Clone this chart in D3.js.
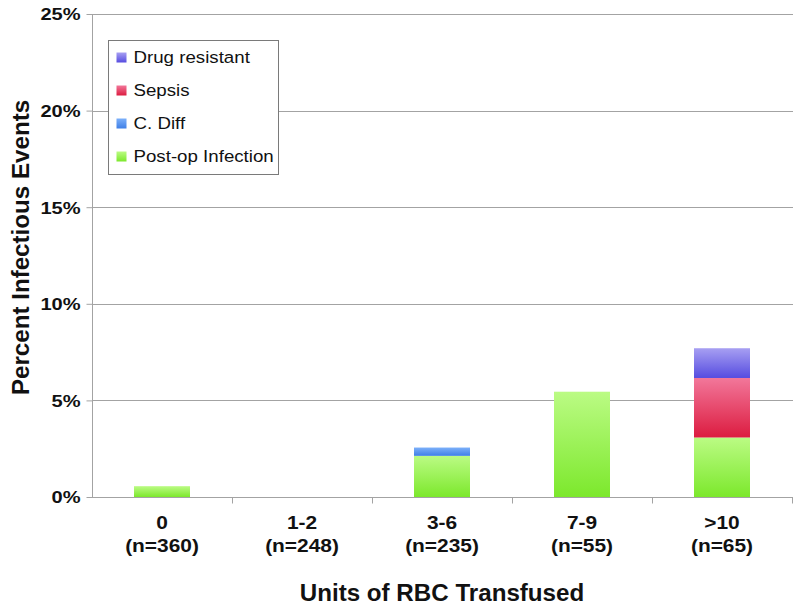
<!DOCTYPE html>
<html>
<head>
<meta charset="utf-8">
<script src="https://cdn.jsdelivr.net/npm/d3@7"></script>
<style>
  html, body { margin: 0; padding: 0; background: #fff; }
  svg { display: block; font-family: "Liberation Sans", Arial, Helvetica, sans-serif; }
</style>
</head>
<body>
<svg id="chart" width="793" height="608"></svg>
<script>
// ---- data ----
const categories = ["0", "1-2", "3-6", "7-9", ">10"];
const sampleSizes = ["(n=360)", "(n=248)", "(n=235)", "(n=55)", "(n=65)"];
const postOp = [0.56, 0, 2.13, 5.45, 3.08];
const cDiff = [0, 0, 0.43, 0, 0];
const sepsis = [0, 0, 0, 0, 3.08];
const drugResistant = [0, 0, 0, 0, 1.54];
const seriesNames = ["Post-op Infection", "C. Diff", "Sepsis", "Drug resistant"];
const yTicks = [0, 5, 10, 15, 20, 25];

const seriesValues = [postOp, cDiff, sepsis, drugResistant];
const seriesColors = [
  ["#bbfb84", "#7ce82c"],
  ["#7cb0fa", "#3f7fe6"],
  ["#f2779a", "#dc1c40"],
  ["#a79ff2", "#564ce0"]
];

const svg = d3.select("#chart");
const plotLeft = 92, plotRight = 792, plotTop = 14, plotBottom = 497;

const x = d3.scaleBand().domain(categories).range([plotLeft, plotRight]).padding(0);
const y = d3.scaleLinear().domain([0, 25]).range([plotBottom, plotTop]);
const barW = x.bandwidth() * 0.4;

// gradients
const defs = svg.append("defs");
seriesColors.forEach((c, i) => {
  const g = defs.append("linearGradient").attr("id", "grad" + i)
    .attr("x1", 0).attr("y1", 0).attr("x2", 0).attr("y2", 1);
  g.append("stop").attr("offset", "0%").attr("stop-color", c[0]);
  g.append("stop").attr("offset", "100%").attr("stop-color", c[1]);
});

const gridColor = "#a3a3a3";

// gridlines
svg.append("g").selectAll("line").data(yTicks.filter(t => t > 0)).join("line")
  .attr("x1", plotLeft).attr("x2", plotRight + 1)
  .attr("y1", d => Math.round(y(d)) + 0.5).attr("y2", d => Math.round(y(d)) + 0.5)
  .attr("stroke", gridColor).attr("stroke-width", 1);

// y axis
const yAxis = d3.axisLeft(y).tickValues(yTicks).tickSize(6).tickFormat(d => d + "%");
const yg = svg.append("g").attr("transform", `translate(${plotLeft + 0.5},0)`).call(yAxis);
yg.select(".domain").attr("stroke", gridColor).attr("d", `M0,${y(25)}V${plotBottom}`);
yg.selectAll(".tick line").attr("stroke", gridColor);
yg.selectAll(".tick text")
  .attr("x", 0).attr("dy", null).attr("y", 0)
  .attr("fill", "#111").attr("font-weight", "bold").attr("font-size", 17)
  .attr("font-family", "'Liberation Sans', Arial, sans-serif")
  .attr("text-anchor", "end").attr("dominant-baseline", "central")
  .attr("transform", "translate(-12,0) scale(1.18,1)");

// stacked bars
const stackData = categories.map((c, i) => {
  const o = { cat: c };
  seriesNames.forEach((s, j) => { o[s] = seriesValues[j][i]; });
  return o;
});
const stacked = d3.stack().keys(seriesNames)(stackData);
svg.append("g").selectAll("g").data(stacked).join("g")
  .attr("fill", (d, i) => `url(#grad${i})`)
  .selectAll("rect").data(d => d.filter(p => p[1] - p[0] > 0)).join("rect")
  .attr("x", d => x(d.data.cat) + (x.bandwidth() - barW) / 2)
  .attr("width", barW)
  .attr("y", d => y(d[1]))
  .attr("height", d => y(d[0]) - y(d[1]));

// x axis
const xAxis = d3.axisBottom(x).tickSize(0).tickFormat("");
const xg = svg.append("g").attr("transform", `translate(0,${plotBottom + 0.5})`).call(xAxis);
xg.select(".domain").attr("stroke", gridColor).attr("d", `M${plotLeft},0H${plotRight + 1}`);
xg.append("g").selectAll("line").data(categories).join("line")
  .attr("x1", d => x(d) + x.bandwidth() + 0.5).attr("x2", d => x(d) + x.bandwidth() + 0.5)
  .attr("y1", 0).attr("y2", 6).attr("stroke", gridColor);

// category labels
const catG = svg.append("g").attr("font-weight", "bold").attr("font-size", 19).attr("fill", "#111");
categories.forEach((c, i) => {
  const cx = x(c) + x.bandwidth() / 2;
  catG.append("text").attr("text-anchor", "middle")
    .attr("transform", `translate(${cx},529) scale(1.1,1)`).text(c);
  catG.append("text").attr("text-anchor", "middle")
    .attr("transform", `translate(${cx},552) scale(1.1,1)`).text(sampleSizes[i]);
});

// axis titles
svg.append("text").attr("text-anchor", "middle").attr("font-weight", "bold")
  .attr("font-size", 23).attr("fill", "#111")
  .attr("transform", `translate(${(plotLeft + plotRight) / 2},601) scale(1.05,1)`)
  .text("Units of RBC Transfused");
svg.append("text").attr("text-anchor", "middle").attr("font-weight", "bold")
  .attr("font-size", 23).attr("fill", "#111")
  .attr("transform", `translate(29,${(98 + 397) / 2}) rotate(-90) scale(1.05,1)`)
  .text("Percent Infectious Events");

// legend
const lg = svg.append("g").attr("transform", "translate(108.5,40.5)");
lg.append("rect").attr("width", 170).attr("height", 134)
  .attr("fill", "#fff").attr("stroke", "#7a7a7a");
const legendOrder = [3, 2, 1, 0];
legendOrder.forEach((si, r) => {
  const cy = 17 + r * 33;
  lg.append("rect").attr("x", 8).attr("y", cy - 5).attr("width", 10).attr("height", 10)
    .attr("fill", `url(#grad${si})`);
  lg.append("text").attr("font-size", 17).attr("fill", "#111")
    .attr("dominant-baseline", "central")
    .attr("transform", `translate(25,${cy}) scale(1.1,1)`)
    .text(seriesNames[si]);
});
</script>
</body>
</html>
